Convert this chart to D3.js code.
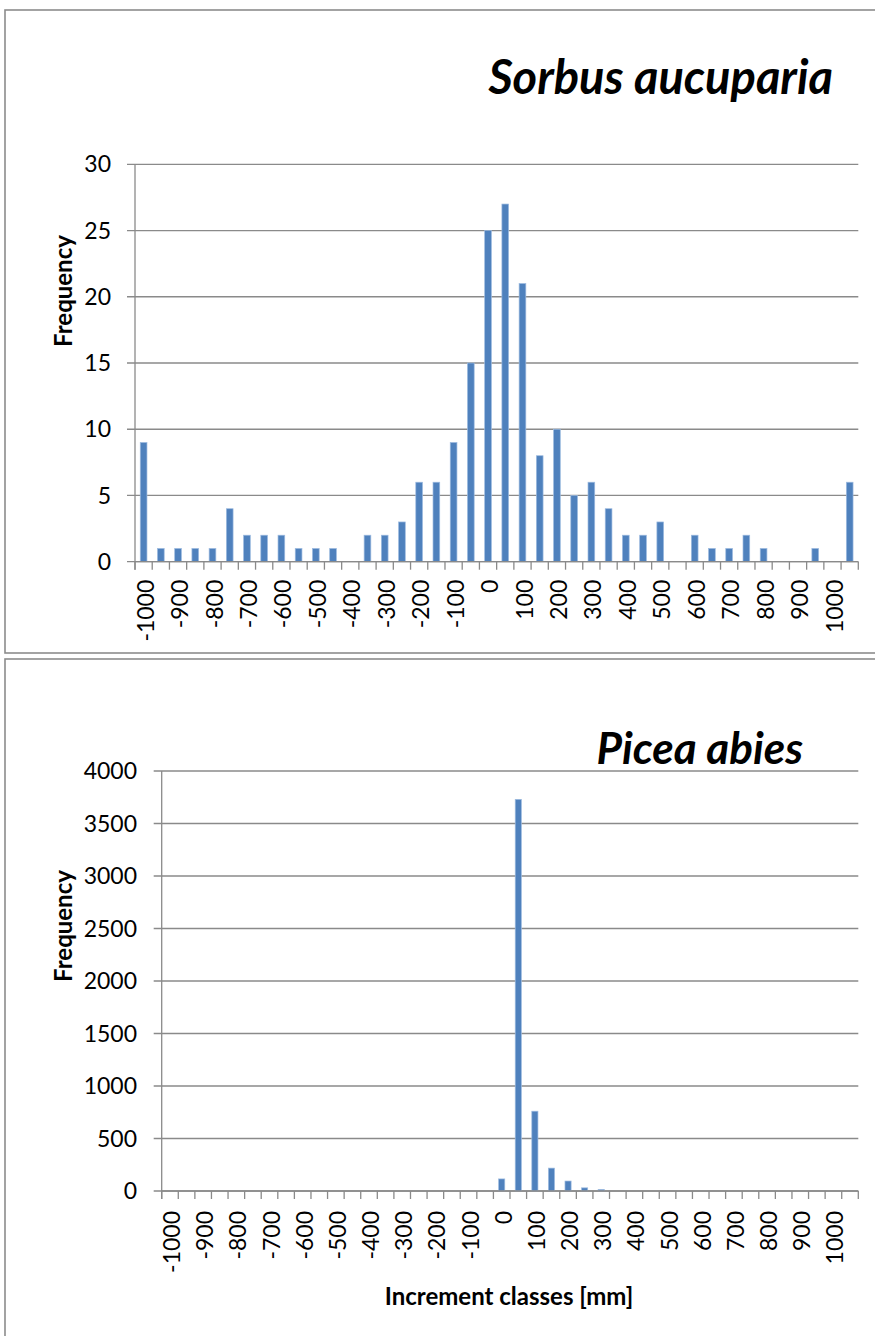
<!DOCTYPE html>
<html><head><meta charset="utf-8">
<script src="https://cdn.jsdelivr.net/npm/d3@7"></script>
<style>body{margin:0;background:#fff}svg{display:block}</style>
</head><body>
<svg id="c" width="875" height="1336"></svg>
<script>
// ---- data ----
const categories = ["-1000","-950","-900","-850","-800","-750","-700","-650","-600","-550","-500","-450","-400","-350","-300","-250","-200","-150","-100","-50","0","50","100","150","200","250","300","350","400","450","500","550","600","650","700","750","800","850","900","950","1000","More"];
const tickLabels = ["-1000","","-900","","-800","","-700","","-600","","-500","","-400","","-300","","-200","","-100","","0","","100","","200","","300","","400","","500","","600","","700","","800","","900","","1000",""];
const sorbusValues = [9,1,1,1,1,4,2,2,2,1,1,1,0,2,2,3,6,6,9,15,25,27,21,8,10,5,6,4,2,2,3,0,2,1,1,2,1,0,0,1,0,6];
const piceaValues  = [0,0,0,0,0,0,0,0,0,0,0,0,0,0,0,0,0,0,0,0,115,3730,760,218,95,30,15,0,0,0,0,0,0,0,0,0,0,0,0,0,0,0];
const sorbusTicks = [0,5,10,15,20,25,30];
const piceaTicks = [0,500,1000,1500,2000,2500,3000,3500,4000];

const svg = d3.select("#c");
const FONT = "Lato, 'Open Sans', sans-serif";
const GRID = "#8a8a8a";
const BAR = "#4F81BD";

// panel frames
svg.append("rect").attr("x",5).attr("y",10).attr("width",880).attr("height",643)
  .attr("fill","none").attr("stroke","#8c8c8c").attr("stroke-width",1.6);
svg.append("rect").attr("x",5).attr("y",659).attr("width",880).attr("height",700)
  .attr("fill","none").attr("stroke","#8c8c8c").attr("stroke-width",1.6);

function panel(o){
  const g = svg.append("g");
  const x = d3.scaleBand().domain(categories).range([o.x0,o.x1]).padding(0);
  const y = d3.scaleLinear().domain([0,o.ymax]).range([o.y1,o.y0]);
  g.selectAll(".grid").data(o.yticks).join("line")
    .attr("x1",o.x0-8).attr("x2",o.x1).attr("y1",d=>y(d)).attr("y2",d=>y(d))
    .attr("stroke",GRID).attr("stroke-width",1.3);
  g.append("line").attr("x1",o.x0).attr("x2",o.x0).attr("y1",o.y0).attr("y2",o.y1+8)
    .attr("stroke",GRID).attr("stroke-width",1.3);
  g.selectAll(".yl").data(o.yticks).join("text")
    .attr("x",o.ylabX).attr("y",d=>y(d)).attr("dy","0.35em")
    .attr("text-anchor","end").attr("font-family",FONT).attr("font-size",23).attr("fill","#000")
    .text(d=>d);
  const bw = x.bandwidth()*o.barRatio;
  g.selectAll(".bar").data(o.values.map((v,i)=>({c:categories[i],v}))).join("rect")
    .attr("x",d=>x(d.c)+x.bandwidth()/2-bw/2).attr("width",bw)
    .attr("y",d=>y(d.v)).attr("height",d=>o.y1-y(d.v))
    .attr("fill",BAR).attr("stroke","#9dbbe0").attr("stroke-width",0.7)
    .style("display",d=>d.v>0?null:"none");
  g.append("line").attr("x1",o.x0).attr("x2",o.x1).attr("y1",o.y1).attr("y2",o.y1)
    .attr("stroke",GRID).attr("stroke-width",1.3);
  const bounds = categories.map(c=>x(c)).concat([o.x1]);
  g.selectAll(".xt").data(bounds).join("line")
    .attr("x1",d=>d).attr("x2",d=>d).attr("y1",o.y1).attr("y2",o.y1+8)
    .attr("stroke",GRID).attr("stroke-width",1.3);
  g.selectAll(".xl").data(categories.map((c,i)=>({c,t:tickLabels[i]})).filter(d=>d.t!=="")).join("text")
    .attr("transform",d=>`translate(${x(d.c)+x.bandwidth()/2+2},${o.y1+o.xlabOff}) rotate(-90)`)
    .attr("dy","0.35em").attr("text-anchor","end")
    .attr("font-family",FONT).attr("font-size",23).attr("fill","#000")
    .text(d=>d.t);
  g.append("text").attr("transform",`translate(${o.ytX},${o.ytY}) rotate(-90)`)
    .attr("dy","0.35em").attr("text-anchor","middle")
    .attr("font-family",FONT).attr("font-weight","bold").attr("font-size",24).text("Frequency");
  g.append("text").attr("x",o.titleX).attr("y",o.titleY).attr("text-anchor","end")
    .attr("font-family",FONT).attr("font-weight","bold").attr("font-style","italic")
    .attr("font-size",o.titleSize).text(o.title);
}

panel({x0:135,x1:858.3,y0:164.3,y1:561.7,ymax:30,yticks:sorbusTicks,values:sorbusValues,
  barRatio:0.39,ylabX:111,xlabOff:18,ytX:64,ytY:291,title:"Sorbus aucuparia",titleX:833,titleY:94,titleSize:47});
panel({x0:161.7,x1:858.3,y0:771,y1:1191,ymax:4000,yticks:piceaTicks,values:piceaValues,
  barRatio:0.37,ylabX:137,xlabOff:20,ytX:64,ytY:926,title:"Picea abies",titleX:803,titleY:764,titleSize:44});

svg.append("text").attr("x",509).attr("y",1305).attr("text-anchor","middle")
  .attr("font-family",FONT).attr("font-weight","bold").attr("font-size",24)
  .text("Increment classes [mm]");
</script>
</body></html>
